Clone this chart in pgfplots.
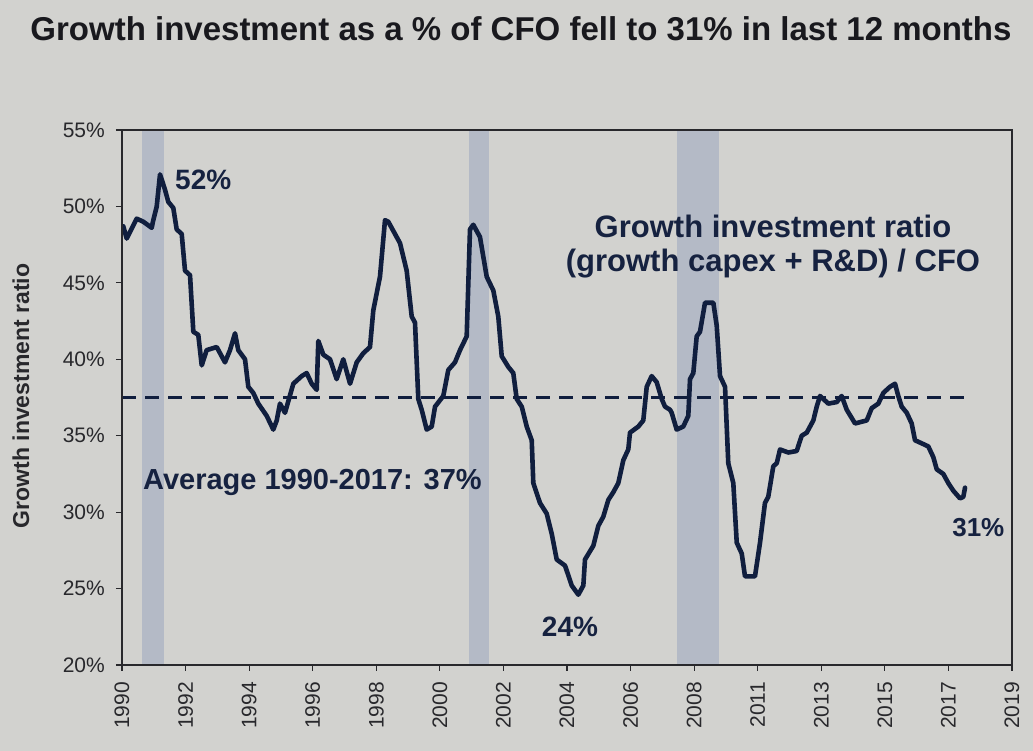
\documentclass[border=0pt]{standalone}
\usepackage{pgfplots}
\pgfplotsset{compat=1.18}
\usepackage{fontspec}
\setmainfont{Liberation Sans}
\definecolor{bg}{RGB}{210,210,207}
\definecolor{band}{RGB}{180,186,198}
\definecolor{navy}{RGB}{16,30,62}
\definecolor{txt}{RGB}{22,34,64}
\definecolor{ttl}{RGB}{25,25,30}
\definecolor{tick}{RGB}{40,40,44}
\begin{document}
\begin{tikzpicture}
\fill[bg] (0,0) rectangle (1033pt,751pt);
\begin{axis}[
  at={(122pt,86pt)}, anchor=south west,
  width=890pt, height=535pt, scale only axis,
  xmin=0, xmax=14, ymin=20, ymax=55,
  axis on top,
  axis line style={draw=tick, line width=1.6pt},
  tick style={draw=tick, line width=1.2pt},
  tick align=outside, major tick length=6pt,
  xtick pos=bottom, ytick pos=left,
  xtick={0,1,2,3,4,5,6,7,8,9,10,11,12,13,14},
  xticklabels={1990,1992,1994,1996,1998,2000,2002,2004,2006,2008,2011,2013,2015,2017,2019},
  xticklabel style={rotate=90, anchor=east, font=\fontsize{21}{23}\selectfont, text=tick, inner xsep=11pt, inner ysep=3pt},
  ytick={20,25,30,35,40,45,50,55},
  yticklabels={20\%,25\%,30\%,35\%,40\%,45\%,50\%,55\%},
  yticklabel style={font=\fontsize{21}{23}\selectfont, text=tick, inner sep=3pt, xshift=-8pt},
]
% recession bands
\addplot[fill=band, draw=none] coordinates {(0.31,20) (0.31,55) (0.66,55) (0.66,20)} -- cycle;
\addplot[fill=band, draw=none] coordinates {(5.46,20) (5.46,55) (5.77,55) (5.77,20)} -- cycle;
\addplot[fill=band, draw=none] coordinates {(8.73,20) (8.73,55) (9.39,55) (9.39,20)} -- cycle;
% average
\addplot[navy, line width=3.5pt, dash pattern=on 14pt off 9pt] coordinates {(0,37.5) (13.29,37.5)};
% growth investment ratio
\addplot[navy, line width=4.6pt, line join=round, line cap=round] coordinates {
(0.020,48.7) (0.074,47.9) (0.231,49.2) (0.335,49.0) (0.467,48.6) (0.492,49.1) (0.546,50.0)
(0.598,52.1) (0.676,51.1) (0.728,50.3) (0.807,49.9) (0.860,48.5) (0.939,48.2) (0.991,45.8)
(1.070,45.5) (1.122,41.8) (1.200,41.6) (1.254,39.6) (1.332,40.6) (1.490,40.8) (1.620,39.8)
(1.699,40.6) (1.778,41.7) (1.829,40.6) (1.935,40.0) (1.987,38.2) (2.065,37.8) (2.144,37.1)
(2.276,36.3) (2.380,35.4) (2.434,36.0) (2.485,37.1) (2.564,36.5) (2.695,38.4) (2.827,38.9)
(2.905,39.1) (2.984,38.4) (3.063,38.0) (3.088,41.2) (3.167,40.3) (3.272,40.0) (3.377,38.7)
(3.481,40.0) (3.587,38.4) (3.692,39.8) (3.796,40.4) (3.901,40.8) (3.953,43.2) (4.058,45.4)
(4.137,49.1) (4.189,49.0) (4.294,48.2) (4.373,47.6) (4.478,45.8) (4.557,42.8) (4.609,42.4)
(4.661,37.4) (4.714,36.7) (4.793,35.4) (4.872,35.6) (4.924,36.9) (5.054,37.6) (5.133,39.3)
(5.238,39.8) (5.317,40.6) (5.422,41.5) (5.474,48.5) (5.526,48.8) (5.631,48.0) (5.737,45.4)
(5.841,44.5) (5.919,42.8) (5.973,40.2) (6.077,39.5) (6.155,39.1) (6.209,37.4) (6.288,36.9)
(6.366,35.6) (6.445,34.7) (6.470,31.9) (6.575,30.6) (6.681,29.9) (6.759,28.6) (6.838,26.9)
(6.969,26.5) (7.074,25.2) (7.178,24.6) (7.257,25.2) (7.283,26.9) (7.414,27.8) (7.492,29.1)
(7.571,29.7) (7.650,30.8) (7.728,31.3) (7.807,31.9) (7.886,33.4) (7.964,34.1) (7.991,35.2)
(8.122,35.6) (8.200,36.0) (8.254,38.2) (8.332,38.9) (8.411,38.5) (8.490,37.4) (8.542,36.9)
(8.620,36.7) (8.647,36.5) (8.725,35.4) (8.829,35.6) (8.908,36.3) (8.935,38.7) (8.987,39.1)
(9.040,41.5) (9.092,41.8) (9.171,43.7) (9.302,43.7) (9.355,42.2) (9.407,38.9) (9.486,38.2)
(9.537,33.2) (9.616,31.9) (9.670,28.0) (9.748,27.3) (9.800,25.8) (9.957,25.8) (10.036,28.0)
(10.114,30.6) (10.166,31.0) (10.245,33.0) (10.299,33.2) (10.351,34.1) (10.481,33.9) (10.613,34.0)
(10.692,35.0) (10.771,35.2) (10.875,36.0) (10.928,36.9) (10.980,37.6) (11.111,37.1) (11.243,37.2)
(11.321,37.6) (11.400,36.7) (11.531,35.8) (11.715,36.0) (11.793,36.8) (11.897,37.1) (11.976,37.8)
(12.081,38.2) (12.160,38.4) (12.211,37.6) (12.265,36.9) (12.344,36.5) (12.422,35.8) (12.474,34.7)
(12.580,34.5) (12.683,34.3) (12.762,33.6) (12.816,32.8) (12.919,32.5) (12.998,31.9) (13.077,31.4)
(13.182,30.9) (13.234,31.0) (13.261,31.6)
};
% annotations
\node[anchor=base west, text=txt, font=\fontsize{28}{30}\selectfont\bfseries, inner sep=0pt] at (axis cs:0.834,51.08) {52\%};
\node[anchor=base, text=txt, font=\fontsize{28}{30}\selectfont\bfseries, inner sep=0pt] at (axis cs:7.047,21.86) {24\%};
\node[anchor=base, text=txt, font=\fontsize{26}{28}\selectfont\bfseries, inner sep=0pt] at (axis cs:13.47,28.40) {31\%};
\node[anchor=base west, text=txt, font=\fontsize{29}{31}\selectfont\bfseries, inner sep=0pt] at (axis cs:0.33,31.47) {Average 1990-2017: 37\%};
\node[anchor=base, text=txt, font=\fontsize{31}{33}\selectfont\bfseries, inner sep=0pt] at (axis cs:10.24,47.94) {Growth investment ratio};
\node[anchor=base, text=txt, font=\fontsize{31}{33}\selectfont\bfseries, inner sep=0pt] at (axis cs:10.24,45.72) {(growth capex + R\&D) / CFO};
\end{axis}
\node[anchor=base, text=ttl, font=\fontsize{33}{36}\selectfont\bfseries, inner sep=0pt] at (521pt,710pt) {Growth investment as a \% of CFO fell to 31\% in last 12 months};
\node[rotate=90, anchor=center, text=tick, font=\fontsize{23}{25}\selectfont\bfseries, inner sep=0pt] at (21pt,355pt) {Growth investment ratio};
\pgfresetboundingbox
\path (0,0) rectangle (1033pt,751pt);
\end{tikzpicture}
\end{document}
